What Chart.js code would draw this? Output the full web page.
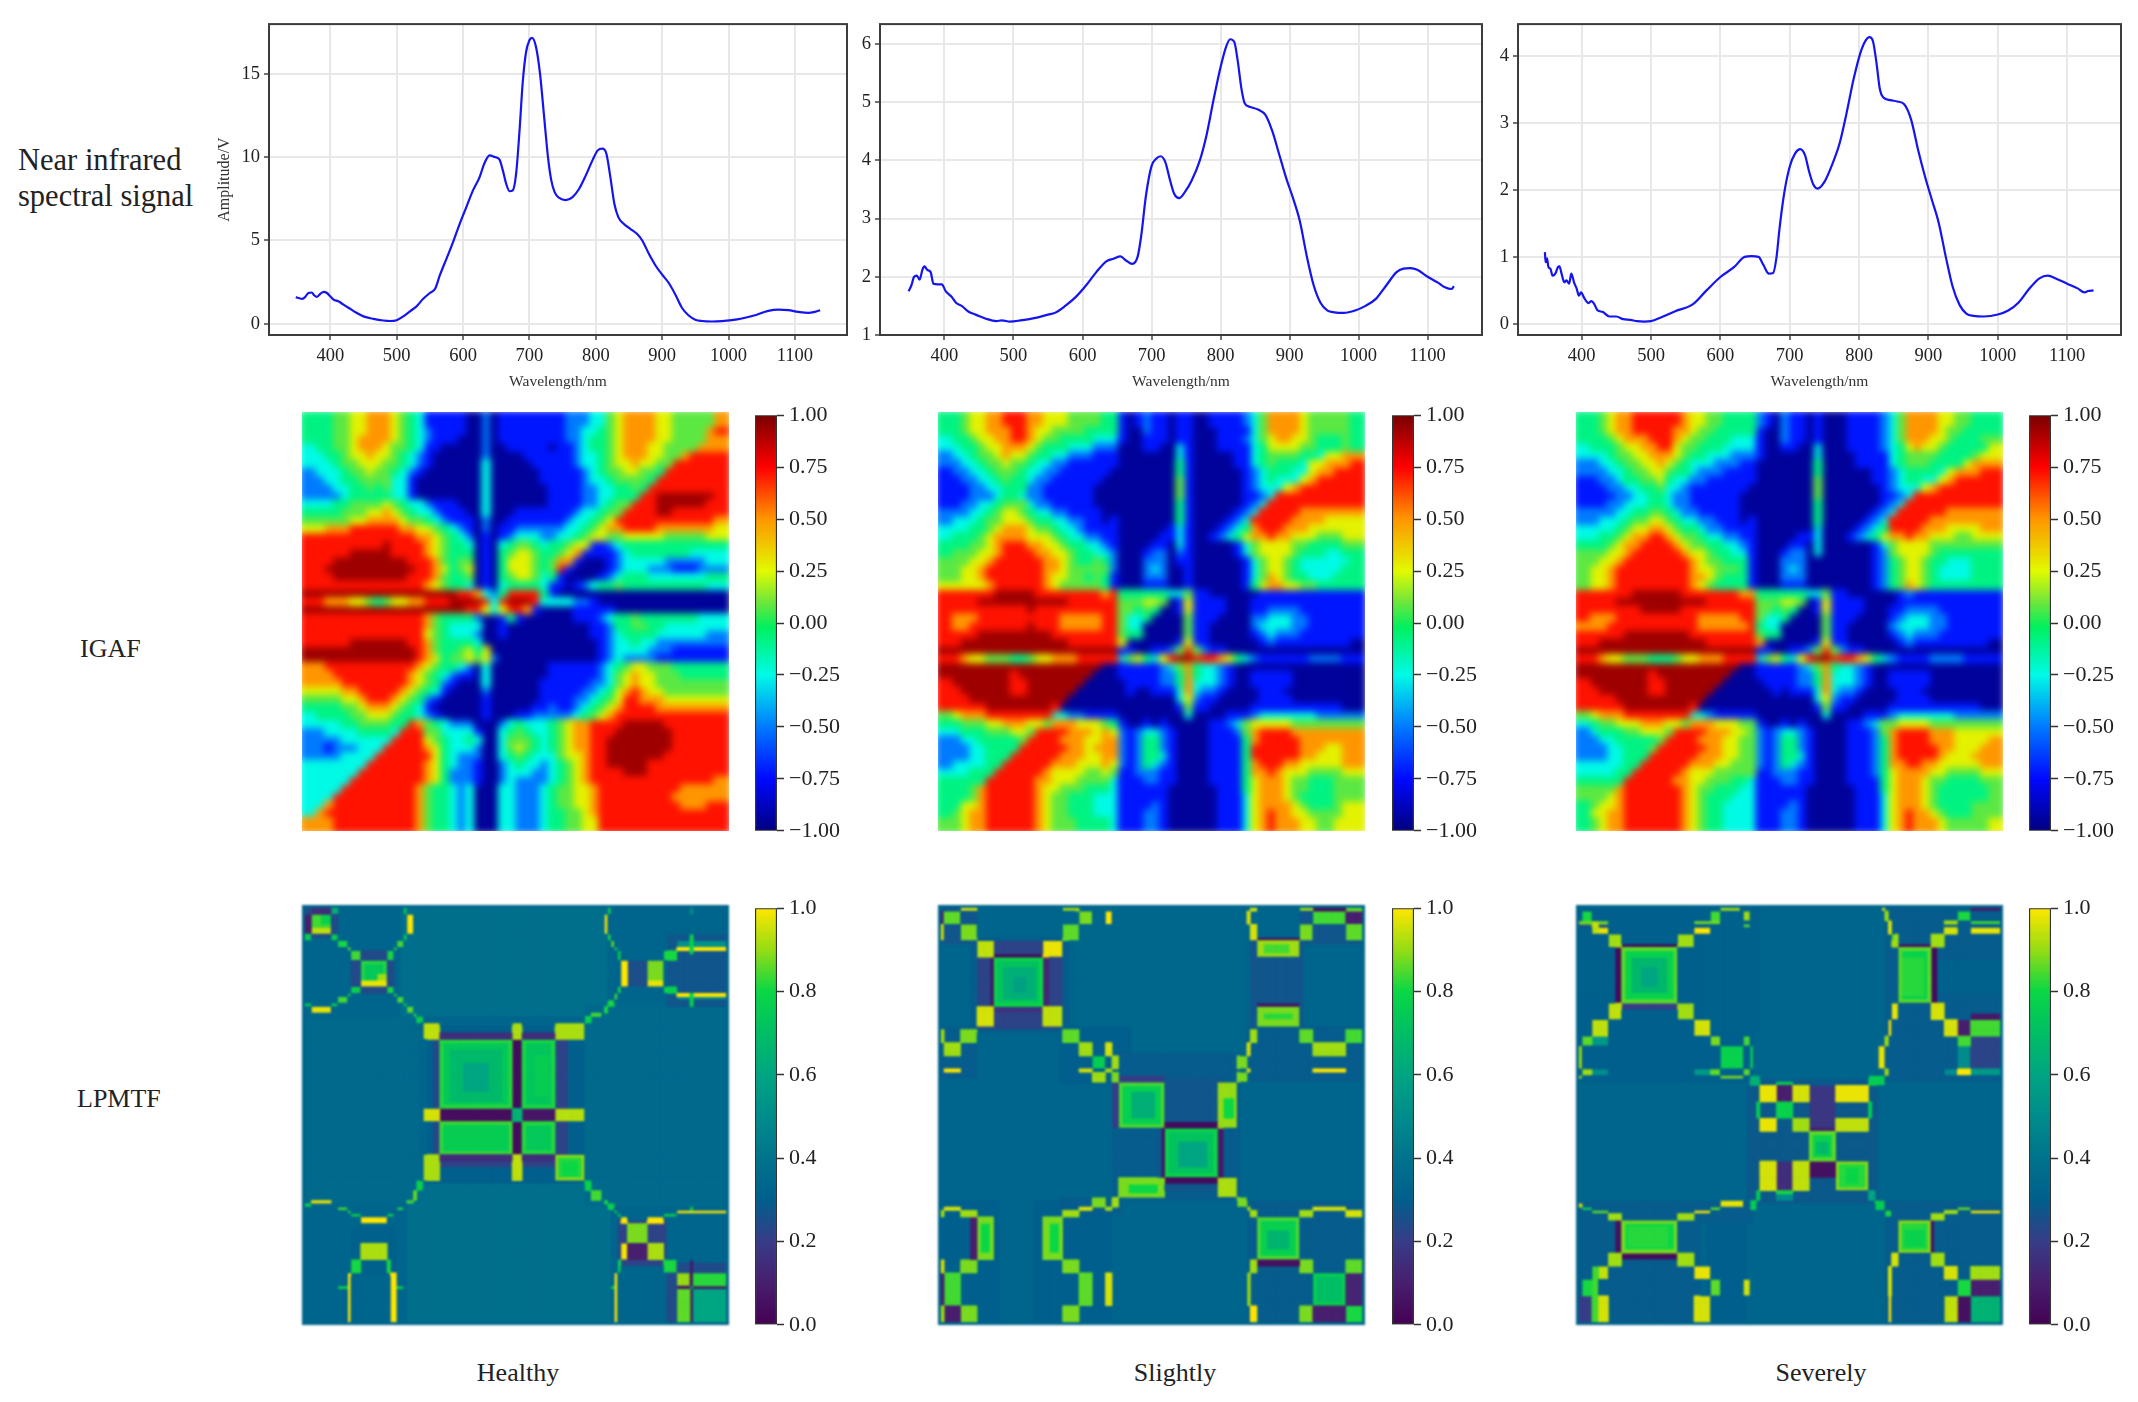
<!DOCTYPE html>
<html>
<head>
<meta charset="utf-8">
<title>NIR signal, IGAF and LPMTF</title>
<script src="https://cdn.jsdelivr.net/npm/chart.js@4"></script>
<style>
html, body { margin: 0; background: #fff; }
#page { position: relative; width: 2138px; height: 1402px; overflow: hidden; font-family: "Liberation Serif", serif; color: #222; }
#page canvas { position: absolute; filter: blur(0.5px); }
#page canvas.igaf { filter: blur(3.6px); }
#page canvas.lpmtf { filter: blur(0.8px); background: #00658c; }
.clip { position: absolute; overflow: hidden; }
.lab { position: absolute; font-size: 26px; line-height: 1; white-space: nowrap; }
</style>
</head>
<body>
<div id="page">
  <div class="lab" style="left:18px;top:143px;font-size:30.5px;line-height:35.5px">Near infrared<br>spectral signal</div>
  <div class="lab" style="left:80px;top:636px">IGAF</div>
  <div class="lab" style="left:77px;top:1086px">LPMTF</div>
  <div class="lab" style="left:518px;top:1360px;transform:translateX(-50%)">Healthy</div>
  <div class="lab" style="left:1175px;top:1360px;transform:translateX(-50%)">Slightly</div>
  <div class="lab" style="left:1821px;top:1360px;transform:translateX(-50%)">Severely</div>
</div>
<script>
// spectra, [wavelength, amplitude]
const spectrumHealthy = [[348,1.6],[352,1.55],[358,1.5],[362,1.6],[367,1.85],[372,1.88],[376,1.7],[380,1.62],[385,1.8],[390,1.92],[395,1.85],[400,1.65],[405,1.45],[412,1.35],[420,1.15],[428,0.95],[438,0.7],[450,0.45],[465,0.3],[480,0.2],[490,0.17],[500,0.22],[510,0.45],[520,0.75],[530,1.05],[540,1.5],[550,1.85],[558,2.1],[565,2.9],[575,3.9],[585,4.9],[595,6.0],[605,7.0],[615,8.0],[625,8.8],[632,9.6],[640,10.1],[648,10.0],[655,9.85],[660,9.2],[665,8.4],[670,7.95],[675,8.0],[680,9.0],[685,11.5],[690,14.5],[695,16.3],[700,17.0],[704,17.15],[710,16.6],[716,15],[722,12.5],[728,10],[733,8.6],[738,7.9],[745,7.55],[755,7.42],[765,7.6],[775,8.1],[785,8.9],[795,9.8],[803,10.4],[810,10.5],[816,10.2],[822,8.8],[828,7.2],[834,6.4],[842,6.0],[852,5.7],[862,5.4],[870,5.0],[880,4.2],[890,3.5],[900,2.95],[910,2.45],[920,1.75],[930,0.95],[940,0.5],[950,0.25],[960,0.17],[975,0.14],[990,0.16],[1005,0.22],[1020,0.32],[1040,0.52],[1060,0.78],[1075,0.85],[1090,0.82],[1105,0.72],[1120,0.66],[1130,0.72],[1138,0.82]];
const spectrumSlightly = [[348,1.75],[352,1.85],[356,2.0],[360,2.02],[364,1.95],[368,2.12],[371,2.18],[375,2.12],[380,2.08],[384,1.88],[390,1.87],[396,1.87],[402,1.75],[410,1.66],[417,1.55],[425,1.5],[435,1.4],[445,1.35],[460,1.28],[475,1.24],[483,1.25],[495,1.23],[510,1.25],[530,1.29],[550,1.35],[560,1.38],[575,1.5],[590,1.65],[605,1.85],[620,2.08],[635,2.27],[645,2.31],[655,2.35],[663,2.28],[672,2.22],[680,2.35],[685,2.7],[692,3.4],[700,3.9],[707,4.03],[713,4.07],[720,3.97],[727,3.65],[733,3.42],[740,3.35],[748,3.45],[758,3.65],[770,4.0],[780,4.45],[790,5.05],[800,5.6],[808,5.95],[814,6.08],[820,6.03],[825,5.7],[830,5.25],[835,4.98],[842,4.92],[855,4.87],[865,4.78],[875,4.5],[885,4.1],[895,3.7],[905,3.35],[915,2.95],[925,2.35],[935,1.85],[945,1.55],[955,1.42],[965,1.39],[978,1.38],[995,1.42],[1010,1.5],[1025,1.62],[1040,1.85],[1055,2.08],[1065,2.14],[1075,2.15],[1085,2.12],[1100,2.0],[1115,1.9],[1125,1.82],[1135,1.79],[1138,1.84]];
const spectrumSeverely = [[347,1.07],[348,0.92],[350,0.98],[352,0.85],[355,0.82],[358,0.72],[362,0.75],[366,0.85],[368,0.86],[371,0.75],[375,0.62],[378,0.65],[382,0.6],[385,0.75],[389,0.62],[393,0.52],[396,0.42],[399,0.47],[404,0.38],[410,0.31],[414,0.34],[418,0.3],[423,0.2],[430,0.18],[440,0.11],[450,0.11],[460,0.07],[470,0.06],[480,0.04],[490,0.035],[500,0.04],[515,0.1],[535,0.19],[560,0.29],[580,0.5],[600,0.7],[620,0.85],[635,1.0],[645,1.01],[655,1.0],[662,0.88],[670,0.75],[676,0.76],[681,1.0],[685,1.4],[692,1.95],[700,2.35],[708,2.55],[715,2.61],[722,2.52],[728,2.27],[734,2.08],[740,2.02],[750,2.12],[762,2.4],[772,2.7],[782,3.15],[792,3.65],[802,4.05],[810,4.24],[815,4.28],[820,4.22],[825,3.9],[830,3.5],[835,3.38],[845,3.34],[855,3.32],[865,3.28],[875,3.05],[885,2.6],[895,2.2],[905,1.85],[915,1.5],[925,1.0],[935,0.55],[945,0.28],[955,0.15],[965,0.12],[980,0.11],[1000,0.14],[1015,0.2],[1030,0.32],[1045,0.52],[1060,0.68],[1072,0.72],[1085,0.67],[1100,0.6],[1115,0.53],[1125,0.47],[1130,0.49],[1138,0.5]];

// IGAF matrices, one character per cell, see igafLevels
const igafLevels = [-0.95, -0.72, -0.5, -0.25, -0.08, 0.08, 0.27, 0.5, 0.72, 0.93];
const igafHealthy = [
"4445566777 6543111110 0201111111 1222335677 7766555557",
"4445566777 6543211110 0201111111 1223345677 7766555578",
"4445567777 6543211100 0201111111 1223445677 7766555577",
"3445567776 5543110000 0200111110 1123445677 7665555777",
"3344566766 5432100000 0200001111 1123345677 7665578888",
"3334556665 5432100000 0300000111 1123345667 6655888888",
"2333455655 4321000000 0300000011 1112345566 5548888888",
"2233445555 3310000000 0300000011 1112334555 5488888888",
"2223344545 3310000000 0300000001 1112233445 4888888888",
"2222344444 3310000000 0300000001 1112233444 8899999998",
"3334455556 5433211100 0300000001 1112234558 8899999988",
"4444555667 6543321110 0300011111 1123345588 8899888888",
"5555566777 7655432111 0200111111 1233456888 8888888887",
"6677788888 8776654321 0201122222 2334567788 8877777776",
"8888888888 8887765432 0101233322 3345665566 6665555566",
"8888888889 8888765443 0103455434 4566112344 4444444444",
"8888899999 8888765444 0104566544 5671111234 4444443333",
"8889999999 9988875455 0104666545 7710001233 3332222233",
"8899999999 9998876456 0104666545 8100001233 3222111222",
"8889999999 9988875445 0104566534 1000012344 4333333344",
"8888888888 8888765443 0103444431 1012344544 4444444433",
"9999999999 9999999988 7324888841 0000000000 0000000000",
"8877766545 6677888999 9838999833 3322100000 0000000000",
"9999999999 9999999998 8636887100 0011111000 0000000000",
"8888888888 8888754444 2001410000 0011123445 4444444333",
"8888888888 8888754333 3001000000 0000112445 5443333333",
"8888888888 8888654333 2001000000 0000112344 4433333322",
"8888899999 9988754444 3000000000 0000012334 3322222222",
"9999999999 9998754456 4600000000 0000012333 3222111111",
"9999999999 9998764556 5620000000 0000012322 2211111111",
"7788888888 8887654432 0300000001 1111123456 6555444444",
"7778888888 8876543211 0300000001 1111123567 6655544444",
"7777888888 8876542100 0300000011 1111223567 6655555555",
"6666778888 8765431000 0200000011 1112234678 7665555555",
"5555667888 7654210000 0100000011 1122345688 7776666666",
"4444556777 6543100000 0100000112 1123456788 8877777777",
"3444455666 5443210000 0100011222 2234567888 8888888888",
"3333445555 4487543222 0002343334 5677888899 9998888888",
"2233334444 3888553333 1003454334 5677888999 9999888888",
"2222333333 8888654334 3003555434 5677889999 9999888888",
"2212223338 8888764333 2003565434 5677889999 9999888888",
"2222333388 8888864322 2003454333 5667889999 9998888888",
"3333333888 8888764322 1002343323 4567889999 9888888888",
"3333338888 8888764222 1002333223 4567888899 9888888888",
"3333388888 8888764222 1002322223 4567888888 8888888887",
"3333888888 8887544323 0003322234 5566788888 8888877777",
"3338888888 8887544323 0003322234 5566788888 8888777777",
"3378888888 8887544323 0003322234 5566788888 8888877788",
"3788888888 8887544323 0003322234 4556788888 8888888888",
"7778888888 8887544323 0003322234 4556688888 8888888888"];
const igafSlightly = [
"4456677888 7766655554 4101211011 0011112357 7776555554",
"4456677788 7665555444 4100211011 0001111357 7776555554",
"3445667788 7655444433 3100111011 0001112356 7766544454",
"3344566777 6544433322 2000110031 0001111346 6665544454",
"2334556766 5443322211 1000000031 0000011345 5554436677",
"2233455655 4332211111 1000000041 0000011345 4443667778",
"1223345554 3322111111 0000000041 0000001234 4433677888",
"1122334544 3221111110 0000000051 0000001234 3336788888",
"1112233444 2211111100 0000000051 0000001233 3678888888",
"1112223443 2211111100 0000000051 0000001123 8888888888",
"1122334555 3221111100 0000000041 0000001238 8888888888",
"2223345665 4332211110 0000000041 0000012388 8887777777",
"2333455666 5443322110 1000000041 0000123888 8877776666",
"3334456777 6554332111 1000000131 0001234788 8777666666",
"3444567777 6665433221 1000001131 0012346778 7766655566",
"4445567888 7766544332 1000011031 0000013566 6655444455",
"4555667888 8776654433 2000122021 0000013566 6654443344",
"5556678888 8877654454 2000222011 0000001356 6543333334",
"5566788888 8877655555 2000232001 0000001356 6543333344",
"5566788888 8876655454 1000222001 0000001357 6544333444",
"6666678888 8876555554 1000111001 0000001467 7665544444",
"8888889999 9888888887 8444444335 1100000011 1111111111",
"8888999999 9999988888 8555665016 1111000111 1111111111",
"8888888888 9888888888 8554540016 1111000112 2221111111",
"8777888888 8888777778 8533400005 1110000223 3322111111",
"8778888888 9888777778 8533000005 1100000233 3322111111",
"8888999999 9998888888 8544000005 1100000123 2221111111",
"8899999999 9999988888 8600000016 1100000012 1111111110",
"9999999999 9999999999 9110011258 5211000000 0000000000",
"8876655544 5667778888 8356436899 8887643211 1111222211",
"9999999999 9999999990 0111112357 4332100000 0000000000",
"9999999989 9999999900 0111112247 4332100111 1100000000",
"8999999988 9999999000 0011112247 3332100111 1100000000",
"8899999988 9999990000 0010011137 3221000011 1000000000",
"8889999999 9999900000 0000000036 2110000011 1100000000",
"8888899999 9998000000 0000000015 1100000111 1111111100",
"5677788888 8883322111 1000000003 0000111233 3333322222",
"4455566777 6657776665 4100101000 0011235666 6655555555",
"3344455566 5888877767 6212332100 0011125788 8877777777",
"2233444445 8888777667 7212442100 0011114788 8887777777",
"2223344448 8888877677 7212442100 0011114888 8887776677",
"2223344488 8888777667 7212443100 0011114888 8887766677",
"2333344888 8887776667 6212432100 0011114788 8776666677",
"3334448888 8876666556 5112221100 0011114778 7666555566",
"4444488888 8776665555 3111221100 0011114677 7655444555",
"4445788888 8766555444 3111111000 0001114677 7655444555",
"4445788888 8765544433 3111111000 0001113677 7654444555",
"4466788888 8765544433 3111121000 0001113677 7765444566",
"4567788888 8765544433 3111221000 0001113678 7766555566",
"5567788888 8765554444 3111221000 0001113678 7776655666"];
const igafSeverely = [
"4456778888 8876655444 4210211010 0011112357 7776655444",
"4456778888 8776554444 4100211010 0011112357 7776554444",
"4445677788 8765544433 3100211010 0011112357 7766544455",
"3444566778 8655444333 3100110030 0011112346 7665444446",
"3334556677 7654433322 2100000030 0001111345 5554444566",
"2233455667 6543332221 1000000040 0001111345 5544446777",
"2223345566 5443222111 1000000040 0000011234 4443677788",
"1122344556 4332211111 1000000050 0000011234 4336788888",
"1112233445 3321111111 0000000050 0000001233 3678888888",
"1111223344 3221111110 0000000050 0000001123 8888888888",
"1112233344 3221111110 0000000040 0000001238 8888888888",
"2222334455 4322111110 0000000040 0000012388 8888777777",
"2233345566 5433221110 1000000040 0000123888 8877777777",
"3333456677 6544322111 1000000030 0001234888 8777666677",
"3344567788 7655433221 1000001130 0012346778 7766655666",
"4445677888 8765544332 1000011030 0000013566 6655555555",
"5556678888 8876654433 1000122030 0000012566 6654444444",
"5566788888 8887655444 1000222000 0000012456 6544333444",
"5667888888 8887665554 1000232000 0000012456 6543333444",
"5667888888 8887765444 1000222000 0000012456 6543333444",
"5667888888 8887654444 1000111000 0000012457 6544444444",
"8888889999 9988888887 7444444335 1100000012 1111111111",
"8888999999 9999988888 8555665016 1111000011 1111111111",
"8888888999 9988888888 8554540016 1111000112 2221111111",
"8777888888 8888777778 8533400005 1110000123 3322111111",
"7778888888 8888777777 8433000005 1100000233 3322111111",
"8888899999 9998888888 8544000005 1100000123 2221111111",
"8899999999 9999988888 8700000016 1100000012 1111111110",
"9999999999 9999999999 9110011258 5211000000 0000000000",
"8876655544 4566777888 8356436899 8887643211 1122221111",
"9999999999 9999999990 0111112357 4332100000 0000000000",
"9999999989 9999999900 0111112247 3332100111 1100000000",
"8999999988 9999999000 0011112247 3332100111 1100000000",
"8899999988 9999990000 0001011137 3221000011 1000000000",
"8888999999 9999900000 0000000036 2110000011 1100000000",
"8888899999 9998000000 0000000015 1100000111 1111111100",
"5677788888 8883321111 1000000003 0000111233 3333322222",
"3455666777 6657776665 5100101000 0011235566 6655555555",
"2344455666 5888877766 5212332100 0011125788 8877766666",
"2233444445 8888777665 5212442100 0011124788 8877766667",
"2223344458 8888877665 5212442100 0011124788 8887766677",
"2223344488 8888777665 5212443100 0011124788 8887666777",
"3333344888 8887776655 5212432100 0011124778 8776666677",
"3333448888 8876665555 5112221100 0011124677 7766555566",
"4444488888 8776655544 3111221100 0011114677 7655444455",
"5555788888 8876554443 3111111000 0001114677 7654444445",
"5556788888 8876544433 3111111000 0001113677 7654444445",
"4566788888 8876544333 3111121000 0001113677 7654444555",
"4667788888 8876544333 3111221000 0001113678 7765444555",
"4567788888 8876544333 3111221000 0001113678 7776555556"];

// LPMTF matrices as blocks of equal value: [col0, col1, row0, row1, value], tenths of a cell
const lpmtfBackground = 0.36;
const lpmtfHealthy = [
[35,1316,45,1304,.33],[320,950,45,370,.38],[345,960,885,1304,.38],[35,385,370,940,.35],[880,1316,330,950,.35],
[400,880,400,880,.3],[425,830,420,830,.22],[175,300,170,300,.24],[30,130,45,130,.24],[1130,1316,120,340,.27],[985,1135,990,1130,.22],[1130,1316,1120,1304,.24],[170,310,1010,1160,.31],
[52,115,60,122,.78],[80,115,60,95,.72],[52,115,100,122,.88],[35,52,62,122,.1],[50,110,45,60,.15],[115,132,45,60,.65],[35,52,122,140,.7],[115,132,122,140,.72],[132,165,140,167,.75],[165,178,167,178,.8],[178,200,178,203,.78],
[200,287,203,288,.74],[200,287,265,288,.92],[255,287,240,265,.85],[287,300,178,203,.75],[300,312,165,178,.75],[312,330,140,167,.78],[330,343,122,140,.72],[343,360,62,122,.95],[330,343,45,60,.7],
[178,200,288,300,.72],[165,178,300,312,.72],[132,165,312,330,.78],[115,132,330,343,.72],[52,115,343,362,.92],[35,52,330,343,.7],
[287,300,288,300,.75],[300,312,300,312,.75],[312,330,312,330,.78],[330,343,330,343,.72],[343,360,343,362,.8],[365,378,365,378,.75],[378,395,378,395,.72],
[397,447,397,445,.88],[660,697,397,445,.86],[795,880,397,445,.86],[880,905,378,395,.72],[905,937,365,378,.78],[940,955,343,362,.75],[955,970,325,343,.75],[970,985,305,325,.78],[985,995,288,305,.75],
[447,660,420,445,.15],[697,795,420,445,.15],[447,660,445,657,.74],[475,630,475,630,.68],[510,590,515,600,.6],[660,697,445,657,.03],[697,795,445,657,.73],[730,770,490,610,.7],
[397,447,657,692,.9],[447,660,657,692,.04],[660,697,657,692,.65],[697,795,657,692,.07],[795,880,657,692,.87],
[447,660,692,790,.76],[660,697,692,790,.03],[697,795,692,790,.74],[397,447,790,873,.86],[660,697,790,873,.88],[795,880,790,873,.82],[815,865,810,860,.74],[447,660,790,815,.15],[697,795,790,815,.15],
[992,1016,203,288,.95],[1016,1070,203,288,.25],[1070,1125,203,288,.82],[1070,1125,268,288,.92],[1125,1165,178,203,.75],[1165,1316,140,168,.52],[1165,1316,168,178,.95],[1165,1316,300,312,.95],[1165,1316,312,328,.5],[1205,1218,125,180,.72],[1205,1218,300,340,.72],[1125,1165,288,300,.72],
[942,955,60,122,.95],[950,965,45,60,.72],[955,965,122,140,.75],[965,975,140,167,.8],[975,985,167,178,.72],[985,992,178,203,.72],[1205,1218,45,60,.55],
[880,905,873,900,.72],[905,937,900,932,.78],[940,955,932,945,.75],[955,970,945,960,.72],[970,985,960,972,.72],[985,992,972,985,.72],[992,1016,985,1008,.95],[1016,1070,1008,1062,.82],[1070,1125,985,1008,.95],[992,1016,1062,1115,.93],[1016,1070,1062,1115,.1],[1070,1125,1062,1115,.86],[1125,1165,1115,1153,.75],
[1165,1316,965,973,.95],[1125,1165,973,985,.72],[1205,1218,955,965,.72],[1165,1205,1153,1195,.84],[1218,1316,1153,1195,.76],[1165,1316,1195,1207,.07],[1205,1218,1115,1304,.07],[1205,1218,1195,1207,.62],[1165,1205,1207,1304,.8],[1218,1316,1207,1304,.6],
[985,992,1115,1153,.72],[975,980,1153,1304,.95],[965,975,1195,1205,.72],
[52,115,932,947,.92],[35,52,947,955,.72],[132,165,953,965,.78],[165,178,965,975,.75],[178,200,975,985,.72],[200,287,985,1008,.95],[200,287,1062,1115,.86],[178,200,1115,1153,.75],[287,297,1115,1153,.75],[165,175,1153,1304,.95],[298,310,1153,1304,.95],[135,165,1195,1207,.72],[310,330,1195,1207,.72],
[287,300,973,985,.72],[310,330,950,965,.75],[340,360,932,947,.78],[365,378,900,932,.8],[378,395,873,900,.72]];
const lpmtfSlightly = [
[40,1320,45,1304,.33],[450,960,45,480,.34],[130,430,130,425,.29],[145,413,145,410,.22],[980,1140,130,415,.27],[40,145,45,150,.27],[1125,1320,45,150,.27],[40,145,405,560,.29],[400,620,405,580,.3],[560,950,480,930,.29],[700,900,560,900,.27],[40,220,930,1304,.3],[320,560,930,1304,.3],[970,1320,930,1304,.29],[970,1320,405,570,.29],[400,590,920,975,.29],
[52,95,52,97,.8],[95,145,45,55,.9],[413,458,45,55,.85],[458,498,52,97,.82],[537,555,52,97,.95],[965,978,52,97,.9],[978,995,45,52,.9],[1125,1168,45,52,.85],[1168,1265,52,97,.78],[1265,1320,52,97,.1],[1168,1265,45,52,.05],[1265,1320,45,52,.8],
[40,52,97,145,.9],[95,145,97,145,.82],[413,458,97,145,.8],[978,995,97,145,.9],[1125,1168,97,145,.82],[1265,1320,97,145,.8],[40,52,52,97,.1],
[145,200,145,197,.88],[352,413,145,197,.92],[995,1125,145,197,.85],[1020,1100,150,180,.78],[995,1125,130,145,.05],
[200,352,180,197,.03],[200,352,197,348,.72],[230,325,225,320,.64],[255,300,255,300,.58],[185,200,197,348,.06],[352,372,197,348,.12],
[145,200,348,408,.9],[352,413,348,408,.88],[995,1125,348,408,.82],[1020,1105,360,385,.76],[995,1125,335,348,.05],[200,352,348,365,.17],
[40,52,410,450,.85],[95,145,410,450,.82],[413,458,410,450,.8],[978,995,410,450,.85],[1125,1168,410,450,.8],[1265,1320,410,450,.78],
[52,95,450,495,.85],[458,498,450,495,.85],[537,555,450,495,.9],[965,978,450,495,.9],[1168,1265,450,495,.85],
[498,537,495,530,.7],[555,578,495,530,.85],[935,965,495,530,.82],
[52,95,530,548,.95],[458,498,530,548,.9],[537,555,530,548,.85],[965,978,530,548,.9],[1168,1265,530,548,.95],
[498,537,548,570,.85],[555,578,548,570,.82],[935,965,548,570,.82],
[580,722,572,712,.77],[615,690,605,680,.64],[880,935,572,712,.84],[895,925,620,680,.74],[580,722,550,572,.2],
[722,880,712,868,.72],[760,845,750,835,.6],[722,880,695,712,.03],[722,880,868,885,.03],[705,722,712,868,.05],[880,900,712,868,.08],[560,580,572,712,.2],
[580,722,868,922,.82],[605,700,885,910,.74],[880,935,868,922,.86],
[555,578,922,952,.85],[498,537,922,952,.82],[935,965,922,952,.82],[537,555,952,965,.85],[458,498,952,965,.9],[965,978,952,965,.85],
[978,995,965,985,.85],[413,458,965,985,.85],[40,52,965,985,.85],[52,95,952,965,.9],[95,145,965,985,.85],[1125,1168,965,985,.85],[1168,1265,952,965,.9],[1265,1320,965,985,.9],
[145,200,985,1110,.82],[160,185,1000,1095,.74],[352,413,985,1110,.82],[365,395,1000,1095,.74],[995,1125,985,1110,.77],[1030,1095,1020,1080,.66],[125,145,985,1110,.1],
[40,52,1110,1153,.9],[95,145,1110,1153,.82],[413,458,1110,1153,.82],[978,995,1110,1153,.85],[1125,1168,1110,1153,.82],[1265,1320,1110,1153,.8],[995,1125,1110,1130,.05],
[52,95,1153,1250,.78],[458,498,1153,1250,.8],[537,555,1153,1250,.9],[965,978,1153,1250,.85],[1168,1265,1153,1250,.7],[40,52,1153,1250,.1],[1265,1320,1153,1250,.12],
[40,52,1250,1304,.85],[95,145,1250,1304,.82],[413,458,1250,1304,.82],[978,995,1250,1304,.95],[1125,1168,1250,1304,.82],[1265,1320,1250,1304,.75],[52,95,1250,1304,.1],[1168,1265,1250,1304,.1]];
const lpmtfSeverely = [
[47,1328,45,1304,.33],[570,980,45,520,.33],[47,580,45,570,.3],[430,600,45,420,.31],[980,1328,45,570,.29],[47,190,200,300,.31],[560,960,560,940,.28],[47,580,930,1304,.29],[980,1328,930,1304,.29],[420,980,1000,1304,.33],[440,560,1000,1304,.3],[1130,1328,200,300,.31],
[57,90,55,88,.75],[47,132,88,95,.82],[47,132,97,104,.25],[90,103,88,128,.88],[103,132,104,128,.92],[395,445,105,128,.95],[445,475,55,88,.78],[395,475,86,95,.82],[475,540,45,55,.85],[545,567,55,88,.85],[545,567,96,104,.8],
[132,175,128,165,.85],[347,395,128,165,.85],[175,347,150,165,.03],[160,175,165,335,.03],[175,347,165,335,.78],[205,320,195,305,.67],[235,285,225,280,.6],[1015,1113,165,335,.78],[1030,1095,190,315,.76],[1115,1135,165,335,.03],[1000,1015,128,165,.85],[1113,1155,128,165,.85],[1155,1197,104,128,.9],[1155,1197,86,95,.85],[1197,1240,55,86,.75],[1240,1328,86,97,.78],[1240,1328,104,128,.92],[1240,1328,45,55,.08],[975,985,55,88,.85],[985,995,88,128,.9],[995,1005,128,140,.8],[965,978,45,52,.9],[1015,1113,150,165,.05],
[132,175,335,385,.88],[347,395,335,385,.85],[175,347,335,350,.2],[1000,1015,335,385,.92],[1113,1155,335,385,.9],
[90,132,385,432,.88],[395,445,385,432,.9],[985,997,385,432,.95],[1155,1197,385,432,.9],[1240,1328,385,432,.78],[1197,1240,385,432,.1],[1240,1328,360,385,.08],
[57,90,432,462,.8],[445,475,432,462,.82],[545,567,432,462,.78],[975,985,432,462,.85],[1197,1240,432,462,.78],[90,132,432,462,.55],
[47,57,462,530,.85],[475,545,462,530,.72],[567,578,462,530,.7],[960,978,462,530,.92],[1197,1240,462,530,.5],[1240,1328,430,530,.22],
[57,90,530,553,.85],[445,475,530,553,.8],[395,445,530,553,.55],[545,567,530,553,.8],[975,985,530,553,.85],[1197,1240,530,553,.95],[1155,1197,530,553,.5],[1240,1328,530,553,.55],[90,132,530,553,.5],
[47,57,553,567,.85],[475,545,555,567,.82],[567,600,553,585,.65],[925,975,553,580,.7],
[645,697,575,585,.7],[645,697,585,632,.1],[745,830,585,728,.18],[600,645,585,632,.92],[697,745,585,632,.9],[830,922,585,632,.92],[645,697,632,680,.72],[600,645,680,728,.92],[697,745,680,728,.85],[830,922,680,728,.88],
[745,830,710,728,.1],[745,830,728,812,.78],[765,810,750,795,.68],[600,645,812,905,.9],[645,697,812,905,.15],[697,745,812,905,.88],[830,922,812,905,.82],[855,895,835,885,.73],[745,830,812,860,.05],
[922,935,632,680,.7],[590,600,632,680,.7],[645,697,905,918,.75],[645,697,918,935,.5],
[585,600,905,930,.7],[925,950,905,935,.6],[950,975,935,962,.7],[975,1000,962,985,.75],[567,585,930,962,.7],[475,545,938,958,.92],[395,445,965,977,.95],[445,475,958,968,.8],[345,395,977,995,.85],[132,175,977,995,.85],[90,132,965,977,.8],[47,57,940,958,.9],[57,90,958,965,.7],
[175,347,995,1092,.8],[200,320,1015,1075,.76],[175,347,1092,1112,.03],[160,175,995,1092,.05],[1015,1113,995,1092,.82],[1040,1095,1020,1070,.72],[1113,1130,995,1092,.05],
[132,175,1092,1135,.85],[347,395,1092,1135,.85],[1000,1015,1092,1135,.9],[1113,1155,1092,1135,.85],
[90,132,1135,1177,.88],[395,445,1135,1177,.92],[985,997,1135,1220,.9],[1155,1197,1135,1177,.9],[1240,1328,1135,1177,.85],
[57,90,1177,1220,.75],[445,475,1177,1220,.8],[545,567,1177,1220,.9],[1197,1240,1177,1220,.75],[1240,1328,1177,1220,.1],
[103,132,1220,1304,.9],[395,445,1220,1304,.9],[985,997,1220,1304,.97],[1155,1197,1220,1304,.88],[1197,1240,1220,1304,.05],[1240,1328,1220,1304,.65],[90,103,1135,1304,.78],[47,90,1220,1304,.2],
[1113,1155,977,995,.85],[1155,1197,965,977,.85],[1197,1240,958,965,.8],[1240,1328,965,977,.97]];

const xTicksStep = 100;
const ampSteps = [5, 1, 1];

// colour bars
const jetStops = [[-1,[0,0,127]],[-0.75,[0,8,255]],[-0.5,[0,122,255]],[-0.25,[0,250,230]],[-0.02,[0,240,95]],[0.1,[110,230,60]],[0.25,[225,250,0]],[0.5,[255,150,0]],[0.75,[255,0,0]],[1,[120,0,0]]];
const viridisStops = [[0,[68,1,84]],[0.1,[72,30,110]],[0.2,[55,60,135]],[0.3,[0,95,140]],[0.4,[0,115,140]],[0.5,[0,140,140]],[0.6,[0,165,130]],[0.7,[0,190,100]],[0.8,[10,215,70]],[0.9,[150,220,20]],[1,[255,230,0]]];

function colorAt(stops, v) {
    let i = 0;
    while (i < stops.length - 2 && v > stops[i + 1][0]) i++;
    const [a, ca] = stops[i], [b, cb] = stops[i + 1];
    const t = Math.min(1, Math.max(0, (v - a) / (b - a)));
    return `rgb(${ca.map((c, k) => Math.round(c + (cb[k] - c) * t)).join(",")})`;
}

const page = document.getElementById("page");
function addCanvas(left, top, w, h, cls, parent) {
    const c = document.createElement("canvas");
    c.width = w; c.height = h;
    c.style.cssText = `left:${left}px;top:${top}px;width:${w}px;height:${h}px`;
    if (cls) c.className = cls;
    (parent || page).appendChild(c);
    return c;
}

const frame = {
    id: "frame",
    afterDraw(chart) {
        const { left, top, width, height } = chart.chartArea, g = chart.ctx;
        g.save(); g.strokeStyle = "#3c3c3c"; g.lineWidth = 2; g.strokeRect(left, top, width, height); g.restore();
    }
};

function lineChart(spectrum, box, xRange, yRange, step, yTitle) {
    const yw = 54, xh = 56, pad = 10;
    const canvas = addCanvas(box[0] - yw, box[1] - pad, box[2] - box[0] + yw + pad, box[3] - box[1] + pad + xh);
    const font = { family: "Liberation Serif", size: 18.5 };
    new Chart(canvas, {
        type: "scatter",
        data: { datasets: [{
            data: spectrum.map(p => ({ x: p[0], y: p[1] })),
            showLine: true, borderColor: "#1414f0", borderWidth: 2.2, pointRadius: 0,
            cubicInterpolationMode: "monotone", clip: false
        }] },
        options: {
            responsive: false, animation: false, devicePixelRatio: 1, events: [],
            layout: { padding: { top: pad, right: pad } },
            plugins: { legend: { display: false }, tooltip: { enabled: false } },
            scales: {
                x: {
                    type: "linear", min: xRange[0], max: xRange[1],
                    ticks: { stepSize: xTicksStep, includeBounds: false, font, color: "#222", padding: 5, maxRotation: 0, callback: v => String(v) },
                    grid: { color: "#e8e8e8", lineWidth: 2, tickLength: 5, tickColor: "#444", tickWidth: 1.5 },
                    border: { display: false },
                    title: { display: true, text: "Wavelength/nm", color: "#333", padding: 0, font: { family: "Liberation Serif", size: 15.5 } },
                    afterFit: s => { s.height = xh; }
                },
                y: {
                    min: yRange[0], max: yRange[1],
                    ticks: { stepSize: step, includeBounds: false, font, color: "#222", padding: 4 },
                    grid: { color: "#e8e8e8", lineWidth: 2, tickLength: 5, tickColor: "#444", tickWidth: 1.5 },
                    border: { display: false },
                    title: { display: !!yTitle, text: yTitle, color: "#333", padding: 0, font: { family: "Liberation Serif", size: 16 } },
                    afterFit: s => { s.width = yw; }
                }
            }
        },
        plugins: [frame]
    });
}

// one dataset per colour keeps the large cell grids quick
function cellChart(canvas, xRange, yRange, cellsByColor, radius) {
    new Chart(canvas, {
        type: "scatter",
        data: { datasets: [...cellsByColor].map(([color, pts]) => ({
            data: pts, backgroundColor: color, pointStyle: "rect",
            pointRadius: radius, pointBorderWidth: 0, pointHoverRadius: radius
        })) },
        options: {
            responsive: false, animation: false, devicePixelRatio: 1, events: [], parsing: false, normalized: true,
            layout: { padding: 0 },
            plugins: { legend: { display: false }, tooltip: { enabled: false } },
            scales: {
                x: { type: "linear", min: xRange[0], max: xRange[1], display: false },
                y: { type: "linear", min: yRange[0], max: yRange[1], reverse: true, display: false }
            }
        }
    });
}

function igafChart(matrix, left, top) {
    const rows = matrix.map(r => r.replace(/ /g, ""));
    const n = rows.length, w = 427, h = 419;
    // repeats the outer cells one step past the clip so the soft filter keeps a straight edge
    const clip = document.createElement("div");
    clip.className = "clip";
    clip.style.cssText = `left:${left}px;top:${top}px;width:${w}px;height:${h}px`;
    page.appendChild(clip);
    const byColor = new Map();
    for (let r = -1; r <= n; r++) {
        const row = rows[Math.min(n - 1, Math.max(0, r))];
        for (let c = -1; c <= n; c++) {
            const color = colorAt(jetStops, igafLevels[+row[Math.min(n - 1, Math.max(0, c))]]);
            if (!byColor.has(color)) byColor.set(color, []);
            byColor.get(color).push({ x: c + 0.5, y: r + 0.5 });
        }
    }
    const canvas = addCanvas(-w / n, -h / n, Math.round(w * (n + 2) / n), Math.round(h * (n + 2) / n), "igaf", clip);
    cellChart(canvas, [-1, n + 1], [-1, n + 1], byColor, 6.6);
}

function lpmtfChart(blocks, left, top, ox, oy) {
    const cols = 128, rows = 126;
    const grid = [];
    for (let r = 0; r < rows; r++) grid.push(new Array(cols).fill(lpmtfBackground));
    blocks.forEach(([x0, x1, y0, y1, v]) => {
        const c0 = Math.max(0, Math.round((x0 - ox) / 10)), r0 = Math.max(0, Math.round((y0 - oy) / 10));
        const c1 = Math.min(cols, Math.max(c0 + 1, Math.round((x1 - ox) / 10)));
        const r1 = Math.min(rows, Math.max(r0 + 1, Math.round((y1 - oy) / 10)));
        const small = Math.min(c1 - c0, r1 - r0) < 8;
        for (let r = r0; r < r1; r++) for (let c = c0; c < c1; c++) {
            // small bright blocks read lighter as a whole, big ones only along the rim
            const rim = r === r0 || r === r1 - 1 || c === c0 || c === c1 - 1;
            grid[r][c] = v < 0.7 ? v : small ? Math.min(1, v + 0.06) : rim ? v + 0.08 : v;
        }
    });
    const byColor = new Map();
    grid.forEach((line, r) => line.forEach((v, c) => {
        const color = colorAt(viridisStops, v);
        if (!byColor.has(color)) byColor.set(color, []);
        byColor.get(color).push({ x: c + 0.5, y: r + 0.5 });
    }));
    cellChart(addCanvas(left, top, 427, 420, "lpmtf"), [0, cols], [0, rows], byColor, 2.8);
}

function colorBar(left, top, h, stops, range, step, digits) {
    const pad = 16, w = 96, barW = 22;
    const canvas = addCanvas(left, top - pad, w, h + pad * 2);
    new Chart(canvas, {
        type: "bar",
        data: { labels: [""], datasets: [{
            data: [range],
            barPercentage: 1, categoryPercentage: 1, borderWidth: 1.5, borderColor: "#333", borderSkipped: false,
            backgroundColor(ctx) {
                const area = ctx.chart.chartArea;
                if (!area) return "#888";
                const g = ctx.chart.ctx.createLinearGradient(0, area.bottom, 0, area.top);
                stops.forEach(([v]) => g.addColorStop((v - range[0]) / (range[1] - range[0]), colorAt(stops, v)));
                return g;
            }
        }] },
        options: {
            responsive: false, animation: false, devicePixelRatio: 1, events: [],
            layout: { padding: { top: pad, bottom: pad } },
            plugins: { legend: { display: false }, tooltip: { enabled: false } },
            scales: {
                x: { display: false },
                y: {
                    position: "right", min: range[0], max: range[1],
                    ticks: {
                        stepSize: step, autoSkip: false, padding: 5, color: "#222",
                        font: { family: "Liberation Serif", size: 22 },
                        callback: v => (v < 0 ? "\u2212" : "") + Math.abs(v).toFixed(digits)
                    },
                    grid: { drawOnChartArea: false, tickLength: 7, tickColor: "#333", tickWidth: 1.5 },
                    border: { display: false },
                    afterFit: s => { s.width = w - barW; }
                }
            }
        }
    });
}

lineChart(spectrumHealthy, [269, 19, 847, 335], [307.7, 1178.5], [-0.668, 17.97], ampSteps[0], "Amplitude/V");
lineChart(spectrumSlightly, [880, 19, 1482, 335], [306.6, 1178.8], [1, 6.34], ampSteps[1], "");
lineChart(spectrumSeverely, [1518, 19, 2121, 335], [308.2, 1177.6], [-0.166, 4.475], ampSteps[2], "");

igafChart(igafHealthy, 302, 412);
igafChart(igafSlightly, 938, 412);
igafChart(igafSeverely, 1576, 412);

lpmtfChart(lpmtfHealthy, 302, 905, 35, 45);
lpmtfChart(lpmtfSlightly, 938, 905, 40, 45);
lpmtfChart(lpmtfSeverely, 1576, 905, 47, 45);

[755, 1392, 2029].forEach(left => {
    colorBar(left, 413, 420, jetStops, [-1, 1], 0.25, 2);
    colorBar(left, 906, 421, viridisStops, [0, 1], 0.2, 1);
});
</script>
</body>
</html>
